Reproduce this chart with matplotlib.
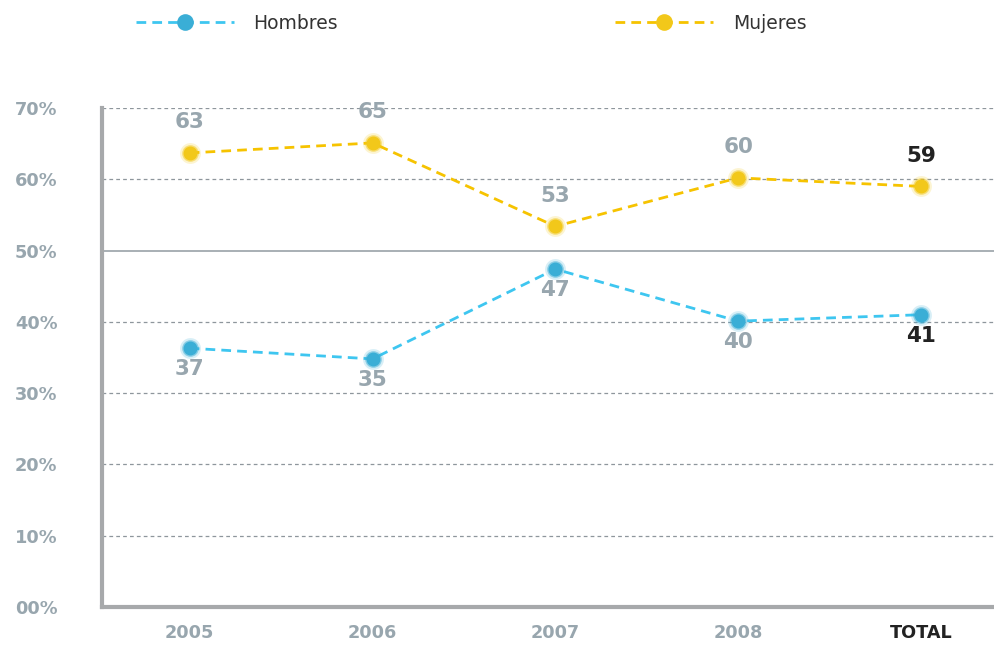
import matplotlib
matplotlib.use("Agg")
import matplotlib.pyplot as plt
from matplotlib.lines import Line2D

plt.rcParams['font.family'] = ['DejaVu Sans']

categories = ["2005", "2006", "2007", "2008", "TOTAL"]
hombres = [36.3, 34.8, 47.4, 40.1, 41.0]
mujeres = [63.7, 65.1, 53.4, 60.2, 59.0]
hombres_labels = ["37", "35", "47", "40", "41"]
mujeres_labels = ["63", "65", "53", "60", "59"]
yticks = [0, 10, 20, 30, 40, 50, 60, 70]
ytick_labels = ["00%", "10%", "20%", "30%", "40%", "50%", "60%", "70%"]

c_h_line = "#3ec6f0"
c_h_mark = "#3aaed6"
c_m_line = "#f6c300"
c_m_mark = "#f2c81a"
gray_txt = "#98a6ae"

fig = plt.figure(figsize=(9.94, 6.46), dpi=100)
ax = fig.add_axes([0.1026, 0.0604, 0.8974, 0.7724])
x = list(range(len(categories)))

ax.set_xlim(-0.48, 4.40)
ax.set_ylim(0, 70)

for v in yticks[1:]:
    if v == 50:
        ax.axhline(v, color="#9aa2a8", lw=1.2, zorder=1)
    else:
        ax.axhline(v, color="#8e969c", lw=0.9, ls=(0, (3, 2.5)), zorder=1)

def series(vals, lc, mc):
    ax.plot(x, vals, color=lc, lw=2.0, ls=(0, (3.5, 2.2)), zorder=3)
    ax.plot(x, vals, ls="none", marker="o", ms=15, color=mc, alpha=0.2,
            markeredgewidth=0, zorder=4)
    ax.plot(x, vals, ls="none", marker="o", ms=12, color=mc, alpha=0.5,
            markeredgewidth=0, zorder=4)
    ax.plot(x, vals, ls="none", marker="o", ms=10, color=mc,
            markeredgewidth=0, zorder=5)

series(hombres, c_h_line, c_h_mark)
series(mujeres, c_m_line, c_m_mark)

for i, (v, lab) in enumerate(zip(mujeres, mujeres_labels)):
    col = "#222222" if categories[i] == "TOTAL" else gray_txt
    ax.annotate(lab, (i, v), xytext=(0, 15), textcoords="offset points",
                ha="center", va="bottom", fontsize=15.5, fontweight="bold", color=col)
for i, (v, lab) in enumerate(zip(hombres, hombres_labels)):
    col = "#222222" if categories[i] == "TOTAL" else gray_txt
    ax.annotate(lab, (i, v), xytext=(0, -8), textcoords="offset points",
                ha="center", va="top", fontsize=15.5, fontweight="bold", color=col)

ax.set_yticks(yticks)
ax.set_yticklabels(ytick_labels, fontsize=12.8, fontweight="bold", color=gray_txt)
ax.set_xticks(x)
ax.set_xticklabels(categories, fontsize=12.7, fontweight="bold", color=gray_txt)
ax.get_xticklabels()[-1].set_color("#222222")
ax.tick_params(axis="y", length=0, pad=32)
ax.tick_params(axis="x", length=0, pad=12)

for s in ["top", "right"]:
    ax.spines[s].set_visible(False)
for s in ["left", "bottom"]:
    ax.spines[s].set_color("#a7a9ab")
    ax.spines[s].set_linewidth(3)

h1 = Line2D([], [], color=c_h_line, lw=2.0, ls=(0, (3.5, 2.2)), marker="o", ms=12,
            markerfacecolor=c_h_mark, markeredgewidth=0)
h2 = Line2D([], [], color=c_m_line, lw=2.0, ls=(0, (3.5, 2.2)), marker="o", ms=12,
            markerfacecolor=c_m_mark, markeredgewidth=0)
fig.legend([h1, h2], ["Hombres", "Mujeres"], loc="upper left",
           bbox_to_anchor=(0.120, 1.005), ncol=2, frameon=False, fontsize=13.5,
           handlelength=5.2, handletextpad=1.05, columnspacing=14.8,
           labelcolor="#333333")

fig.savefig("out.png", dpi=100)
